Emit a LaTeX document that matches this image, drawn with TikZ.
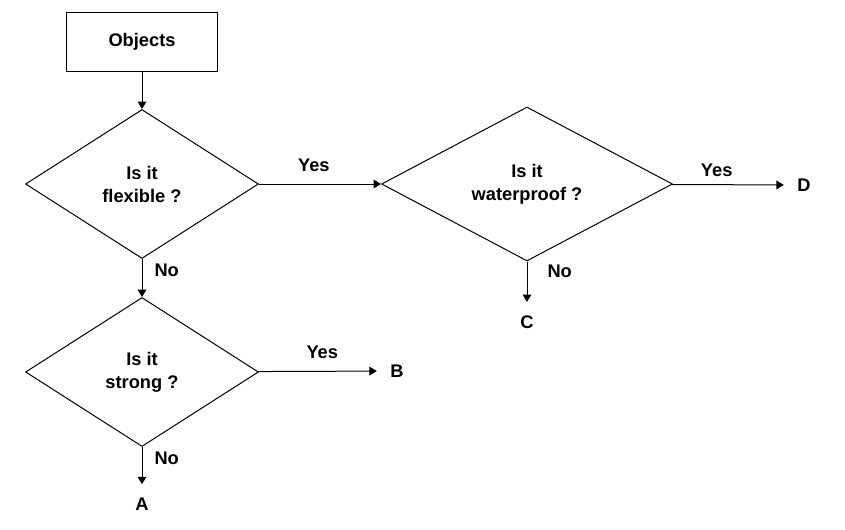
\documentclass[tikz,border=0pt]{standalone}
\usepackage{fontspec}
\setmainfont{Liberation Sans}
\usetikzlibrary{shapes.geometric,arrows.meta}

\tikzset{
  objbox/.style={draw, line width=0.75pt, minimum width=113.25pt, minimum height=44.25pt},
  question/.style={diamond, draw, line width=0.75pt, align=center, inner sep=0pt,
    minimum width=#1, minimum height=111.75pt},
  leaf/.style={inner sep=10pt},
  lbl/.style={auto, inner sep=9pt}
}

\begin{document}
\begin{tikzpicture}[x=0.75pt, y=-0.75pt, font=\bfseries\fontsize{13.7pt}{17.25pt}\selectfont,
  >={Triangle[length=5.5pt,width=6.5pt]}]
\useasboundingbox (0,0) rectangle (845,529);
\node[objbox] (obj) at (142,41.5) {Objects};
\node[question=174.75pt] (flex) at (142,184) {Is it\\flexible ?};
\node[question=218.25pt, minimum height=115.5pt] (water) at (527,184) {Is it\\waterproof ?};
\node[question=174.75pt] (strong) at (142,372) {Is it\\strong ?};
\node[leaf] (D) at (804,185) {D};
\node[leaf] (C) at (527,322) {C};
\node[leaf] (B) at (397,371) {B};
\node[leaf] (A) at (142,504) {A};
\path[->, line width=0.75pt]
(obj) edge (flex)
(flex) edge node[lbl, pos=0.45]{Yes} (water)
(flex) edge node[lbl, pos=0.3]{No} (strong)
(water) edge node[lbl, pos=0.4, inner sep=6pt]{Yes} (D)
(water) edge node[lbl, pos=0.25, inner sep=15pt]{No} (C)
(strong) edge node[lbl, pos=0.54]{Yes} (B)
(strong) edge node[lbl, pos=0.3]{No} (A);
\end{tikzpicture}
\end{document}
